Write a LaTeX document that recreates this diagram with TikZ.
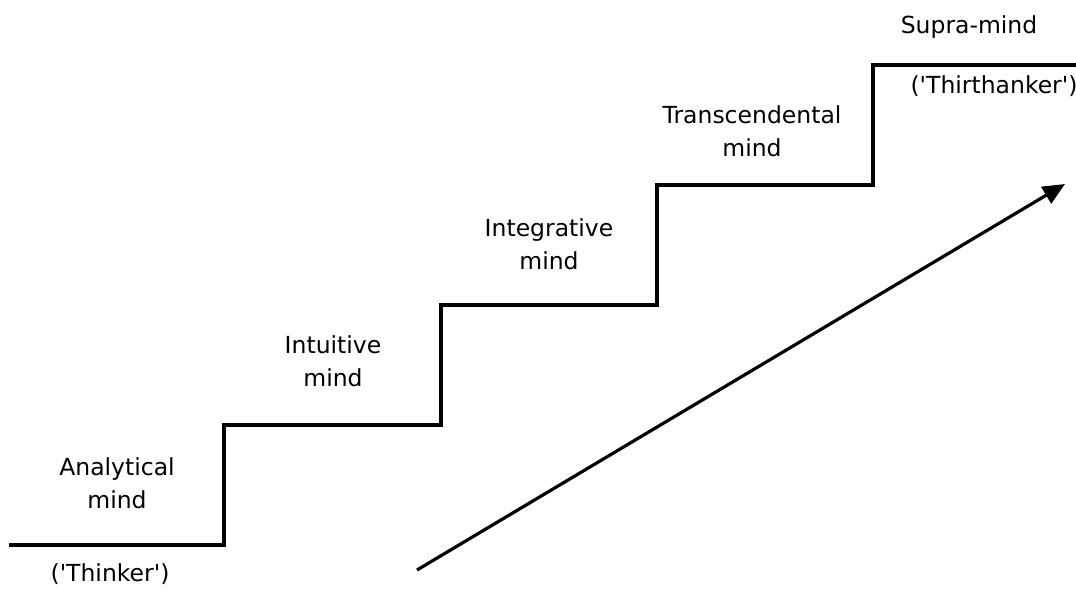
\documentclass[tikz,border=0pt]{standalone}
\usepackage{fontspec}
\setmainfont{DejaVu Sans}[Ligatures=TeXOff]
\usetikzlibrary{arrows.meta}
\begin{document}
\begin{tikzpicture}[x=1pt,y=-1pt,
  stair/.style={line width=3.2pt,line join=miter},
  lbl/.style={font=\fontsize{23.5}{33}\selectfont,align=center,inner sep=0pt},
  growth/.style={line width=3.2pt,-{Triangle[length=22pt,width=19pt]}}]
\useasboundingbox (0,0) rectangle (1076,589);
\coordinate (s0) at (9,545);
\coordinate (s1) at (224,545);
\coordinate (s2) at (224,425);
\coordinate (s3) at (441,425);
\coordinate (s4) at (441,305);
\coordinate (s5) at (657,305);
\coordinate (s6) at (657,185);
\coordinate (s7) at (873,185);
\coordinate (s8) at (873,65);
\coordinate (s9) at (1076,65);
\draw[stair] (s0) -- (s1) -- (s2) -- (s3) -- (s4) -- (s5) -- (s6) -- (s7) -- (s8) -- (s9);
\node[lbl] (analytical) at (117,483) {Analytical\\mind};
\node[lbl,anchor=base] (thinker) at (110,581) {('Thinker')};
\node[lbl] (intuitive) at (333,361) {Intuitive\\mind};
\node[lbl] (integrative) at (549,244) {Integrative\\mind};
\node[lbl] (transcendental) at (752,131) {Transcendental\\mind};
\node[lbl,anchor=base] (supra) at (969,33) {Supra-mind};
\node[lbl,anchor=base] (thirthanker) at (994,93) {('Thirthanker')};
\coordinate (a0) at (417,570);
\coordinate (a1) at (1065,184);
\draw[growth] (a0) -- (a1);
\end{tikzpicture}
\end{document}
